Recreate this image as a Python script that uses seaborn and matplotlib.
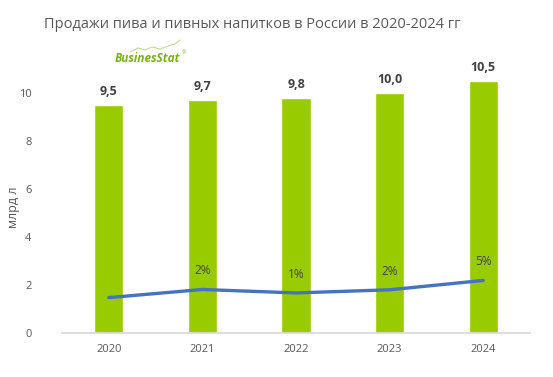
import numpy as np
import pandas as pd
import matplotlib
matplotlib.use("Agg")
import matplotlib.pyplot as plt
from matplotlib.lines import Line2D
import seaborn as sns

years = ["2020", "2021", "2022", "2023", "2024"]
sales = [9.5, 9.7, 9.8, 10.0, 10.5]
growth = [-0.5, 2.1, 1.0, 2.0, 5.0]
growth_labels = ["", "2%", "1%", "2%", "5%"]

sns.set_theme(style="white")
plt.rcParams['font.family'] = ['Open Sans', 'DejaVu Sans']

W, H = 553, 377
fig = plt.figure(figsize=(W / 100, H / 100), dpi=100)
left, right, bottom_px, top_px = 62, 530, 333, 45
ax = fig.add_axes([left / W, (H - bottom_px) / H, (right - left) / W, (bottom_px - top_px) / H])

df = pd.DataFrame({"year": years, "sales": sales})
sns.barplot(data=df, x="year", y="sales", color="#99cc00", width=0.31, saturation=1, ax=ax)
ax.set_xlim(-0.5, 4.5)
ax.set_ylim(0, 12)
ax.set_yticks([0, 2, 4, 6, 8, 10])
ax.set_yticklabels(["0", "2", "4", "6", "8", "10"])
ax.tick_params(axis="both", length=0, labelsize=8, colors="#595959")
ax.tick_params(axis="x", pad=8)
ax.tick_params(axis="y", pad=22)
for s in ["top", "right", "left"]:
    ax.spines[s].set_visible(False)
ax.spines["bottom"].set_color("#d9d9d9")
ax.set_xlabel("")
ax.set_ylabel("млрд л", fontsize=9, color="#595959")
ax.yaxis.set_label_coords((20 - left) / (right - left), (bottom_px - 207) / (bottom_px - top_px))

for i, v in enumerate(sales):
    ax.text(i, v + 0.28, f"{v:.1f}".replace(".", ","), ha="center", va="bottom",
            fontsize=9, fontweight="bold", color="#404040")

# secondary axis for growth line: left = 1.54 + 0.13*g
a, b = 1.54, 0.13
ax2 = ax.twinx()
ax2.set_ylim((0 - a) / b, (12 - a) / b)
sns.lineplot(x=np.arange(len(years)), y=growth, ax=ax2, color="#4472c4", linewidth=2.4)
ax2.set_xlim(-0.5, 4.5)
ax2.axis("off")
for i, (g, lab) in enumerate(zip(growth, growth_labels)):
    if lab:
        ax2.text(i, g + 0.5 / b, lab, ha="center", va="bottom", fontsize=8.5, color="#404040")

fig.text(252 / W, 1 - 25 / H, "Продажи пива и пивных напитков в России в 2020-2024 гг",
         ha="center", va="center", fontsize=10.5, color="#595959")

# logo
fig.canvas.draw()
t1 = fig.text(115 / W, 1 - 59 / H, "BusinesStat", ha="left", va="center", fontsize=8.5,
              fontweight="bold", style="italic", color="#7ab317")
bb = t1.get_window_extent(renderer=fig.canvas.get_renderer())
fig.text((bb.x1 + 1) / W, 1 - 53 / H, "®", ha="left", va="center", fontsize=4, color="#7ab317")
sx = np.array([130, 138, 145, 152, 160, 168, 175, 180])
sy = np.array([52, 48, 50, 47, 49, 46, 44, 40])
fig.add_artist(Line2D(sx / W, 1 - sy / H, color="#b5d98a", linewidth=0.7))

fig.savefig("out.png", dpi=100)
